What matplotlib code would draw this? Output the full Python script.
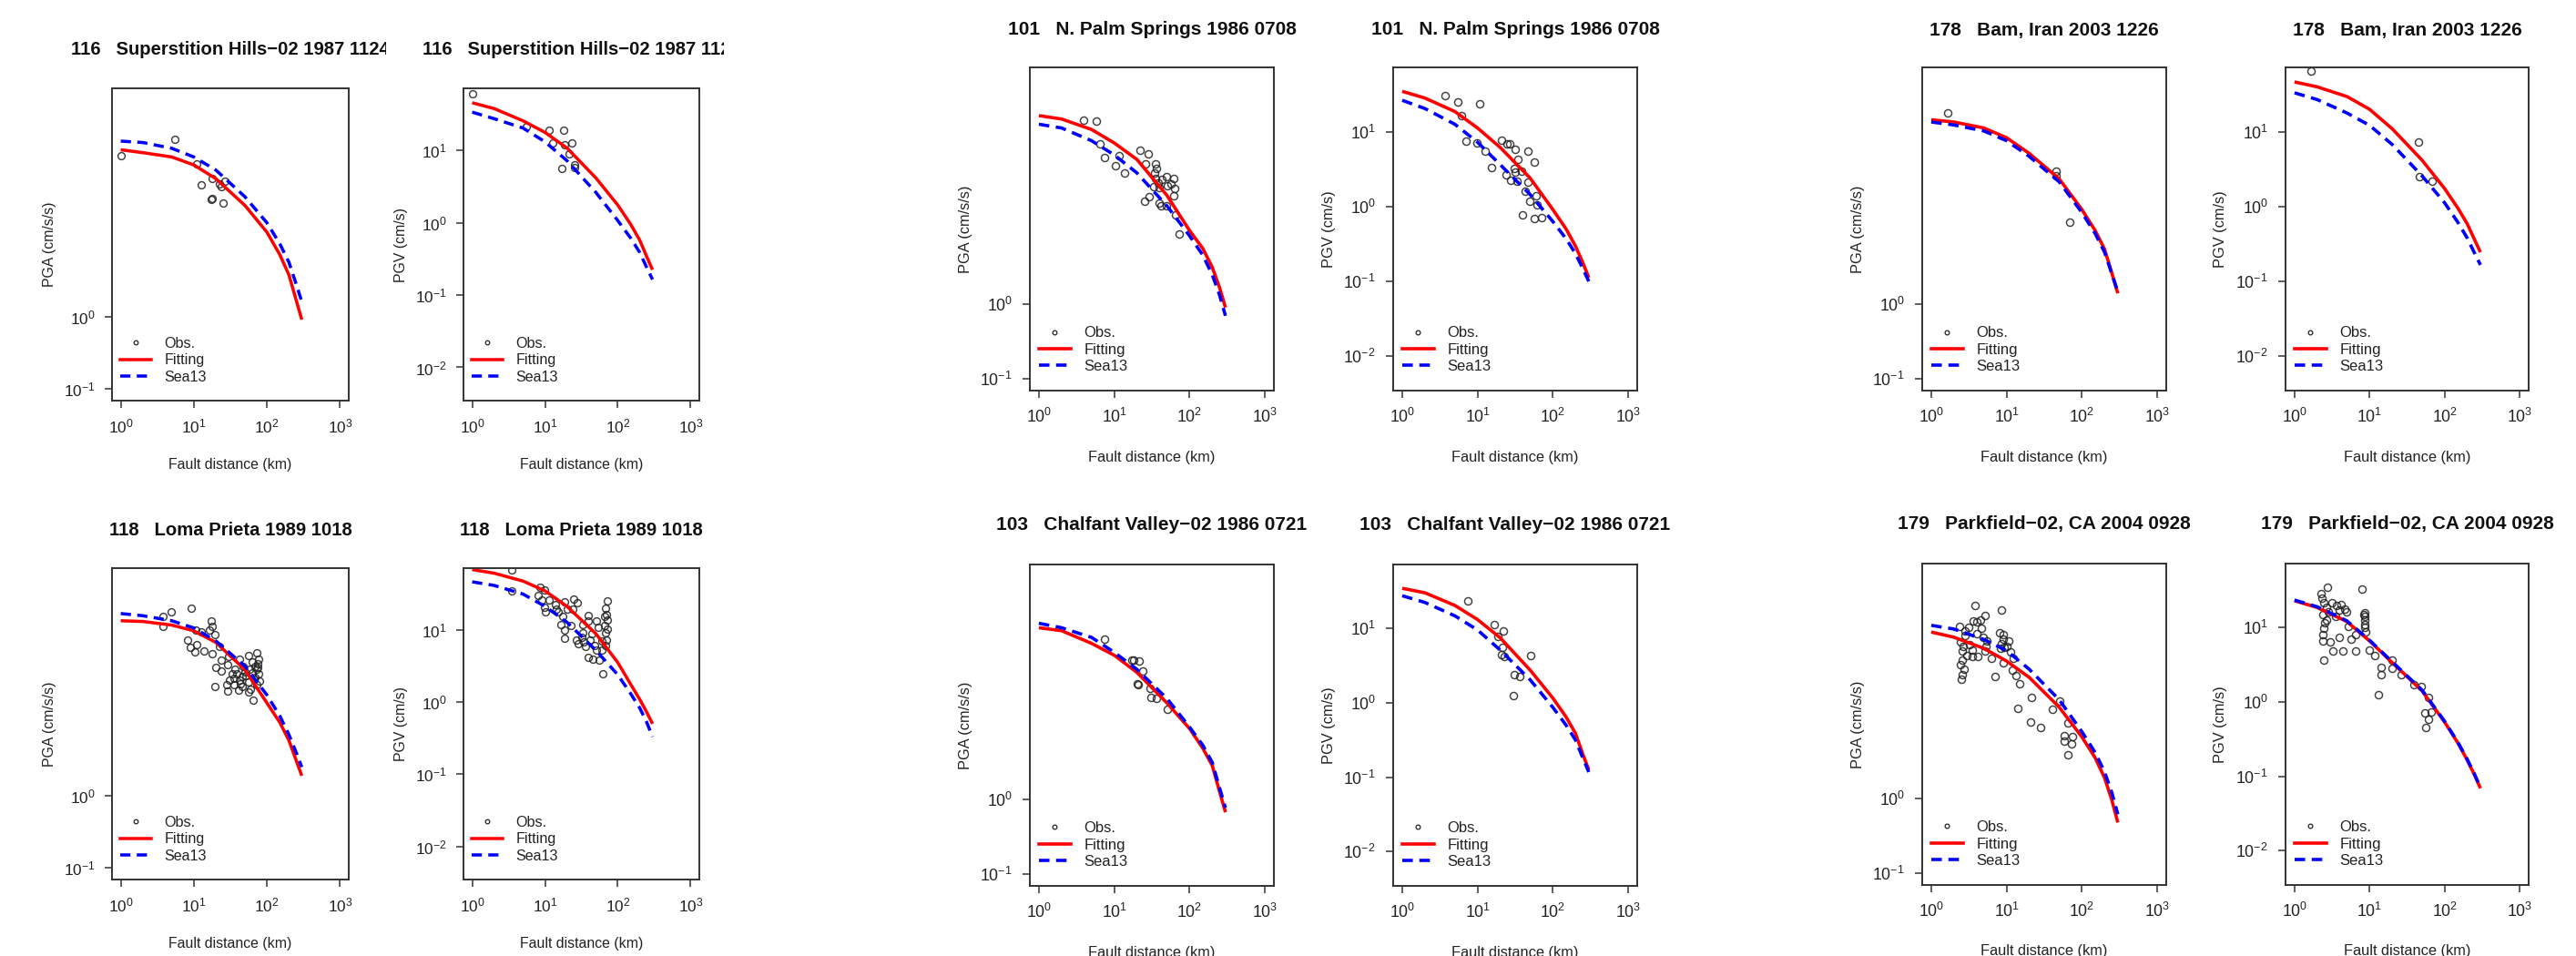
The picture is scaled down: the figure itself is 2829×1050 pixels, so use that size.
import numpy as np
import matplotlib
matplotlib.use('Agg')
import matplotlib.pyplot as plt
from matplotlib.lines import Line2D
from matplotlib.transforms import Bbox, TransformedBbox

plt.rcParams['font.family'] = ['Liberation Sans', 'DejaVu Sans']
plt.rcParams['mathtext.fontset'] = 'custom'
plt.rcParams['mathtext.rm'] = 'Liberation Sans'
plt.rcParams['mathtext.it'] = 'Liberation Sans:italic'
plt.rcParams['mathtext.bf'] = 'Liberation Sans:bold'

W, H = 2829, 1050

# ---------------- data (log10 values) ----------------
dist_km = [1, 2, 5, 10, 20, 50, 100, 150, 200, 250, 300]

# 116 Superstition Hills-02
ev116_pga_fit = [2.31, 2.27, 2.21, 2.10, 1.91, 1.54, 1.17, 0.86, 0.58, 0.24, -0.04]
ev116_pga_sea = [2.43, 2.41, 2.33, 2.21, 2.03, 1.66, 1.30, 1.01, 0.755, 0.46, 0.21]
ev116_pga_obs_logr = [0.0, 0.739, 1.04, 1.105, 1.252, 1.233, 1.252, 1.349, 1.381, 1.426, 1.40]
ev116_pga_obs_logy = [2.23, 2.46, 2.11, 1.82, 1.91, 1.62, 1.63, 1.84, 1.795, 1.88, 1.576]
ev116_pgv_fit = [1.66, 1.58, 1.41, 1.25, 1.035, 0.62, 0.245, -0.02, -0.24, -0.47, -0.65]
ev116_pgv_sea = [1.53, 1.44, 1.31, 1.12, 0.86, 0.42, 0.03, -0.21, -0.41, -0.62, -0.785]
ev116_pgv_obs_logr = [0.0, 0.745, 1.05, 1.258, 1.111, 1.272, 1.368, 1.336, 1.227, 1.40, 1.41]
ev116_pgv_obs_logy = [1.79, 1.33, 1.285, 1.28, 1.11, 1.08, 1.11, 0.947, 0.75, 0.763, 0.80]

# 118 Loma Prieta
ev118_pga_fit = [2.43, 2.42, 2.37, 2.29, 2.13, 1.75, 1.29, 1.02, 0.77, 0.50, 0.28]
ev118_pga_sea = [2.53, 2.50, 2.43, 2.33, 2.15, 1.80, 1.40, 1.11, 0.85, 0.61, 0.40]
ev118_pga_obs_logr = [0.689, 0.573, 0.573, 0.97, 1.233, 1.245, 1.212, 1.287, 1.024, 1.107,
                      0.92, 0.953, 1.036, 1.011, 1.137, 1.245, 1.35, 1.378, 1.303, 1.371,
                      1.462, 1.471, 1.629, 1.747, 1.86, 1.889, 1.838, 1.671, 1.588, 1.546,
                      1.629, 1.713, 1.797, 1.86, 1.889, 1.754, 1.663, 1.546, 1.454, 1.484,
                      1.462, 1.287, 1.609, 1.747, 1.817, 1.776, 1.86, 1.838, 1.872, 1.797,
                      1.567, 1.525, 1.82, 1.70, 1.88, 1.76, 1.66, 1.90, 1.64]
ev118_pga_obs_logy = [2.548, 2.485, 2.347, 2.60, 2.43, 2.347, 2.297, 2.243, 2.306, 2.276,
                      2.163, 2.055, 2.096, 1.996, 2.005, 1.971, 2.068, 1.887, 1.783, 1.733,
                      1.817, 1.93, 1.90, 1.942, 1.984, 1.90, 1.796, 1.796, 1.692, 1.629,
                      1.608, 1.67, 1.712, 1.754, 1.692, 1.587, 1.524, 1.545, 1.545, 1.608,
                      1.454, 1.524, 1.462, 1.441, 1.328, 1.482, 1.545, 1.649, 1.837, 1.858,
                      1.754, 1.692, 1.62, 1.72, 1.78, 1.76, 1.66, 1.60, 1.56]
ev118_pgv_fit = [1.84, 1.79, 1.68, 1.545, 1.33, 0.95, 0.55, 0.25, 0.04, -0.14, -0.30]
ev118_pgv_sea = [1.67, 1.62, 1.50, 1.33, 1.11, 0.72, 0.38, 0.12, -0.08, -0.28, -0.48]
ev118_pgv_obs_logr = [0.547, 0.547, 0.931, 0.994, 0.911, 0.952, 1.057, 0.994, 1.007, 1.14,
                      1.162, 1.266, 1.307, 1.391, 1.441, 1.383, 1.245, 1.216, 1.266, 1.266,
                      1.357, 1.516, 1.591, 1.60, 1.704, 1.733, 1.516, 1.432, 1.454, 1.537,
                      1.62, 1.642, 1.683, 1.704, 1.60, 1.746, 1.80, 1.851, 1.829, 1.817,
                      1.851, 1.817, 1.829, 1.842, 1.829, 1.776, 1.182, 1.655, 1.50, 1.56,
                      1.86, 1.84, 1.78]
ev118_pgv_obs_logy = [1.839, 1.545, 1.595, 1.552, 1.481, 1.419, 1.419, 1.313, 1.25, 1.356,
                      1.293, 1.397, 1.293, 1.426, 1.376, 1.293, 1.187, 1.082, 0.997, 0.893,
                      1.061, 1.082, 1.208, 1.132, 1.124, 1.04, 0.965, 0.864, 0.808, 0.838,
                      0.868, 0.956, 0.788, 0.725, 0.628, 0.586, 0.401, 1.41, 1.30, 1.187,
                      1.145, 1.061, 0.965, 0.864, 0.788, 0.725, 1.25, 0.593, 0.90, 0.78,
                      1.02, 1.22, 0.85]

# 101 N. Palm Springs
ev101_pga_fit = [2.515, 2.47, 2.33, 2.15, 1.93, 1.45, 0.98, 0.74, 0.49, 0.22, -0.05]
ev101_pga_sea = [2.40, 2.35, 2.18, 1.99, 1.75, 1.31, 0.91, 0.65, 0.39, 0.12, -0.16]
ev101_pga_obs_logr = [0.593, 0.758, 0.806, 0.875, 1.021, 1.061, 1.138, 1.344, 1.453, 1.412,
                      1.553, 1.565, 1.533, 1.553, 1.634, 1.695, 1.787, 1.525, 1.804, 1.795,
                      1.465, 1.40, 1.594, 1.626, 1.695, 1.816, 1.868, 1.75, 1.58, 1.60, 1.70]
ev101_pga_obs_logy = [2.449, 2.440, 2.133, 1.957, 1.846, 1.981, 1.743, 2.05, 2.001, 1.866,
                      1.866, 1.805, 1.743, 1.681, 1.661, 1.702, 1.674, 1.567, 1.538, 1.444,
                      1.436, 1.374, 1.346, 1.305, 1.305, 1.19, 0.936, 1.60, 1.62, 1.55, 1.58]
ev101_pgv_fit = [1.54, 1.45, 1.27, 1.05, 0.79, 0.38, -0.04, -0.30, -0.53, -0.75, -0.95]
ev101_pgv_sea = [1.42, 1.31, 1.10, 0.86, 0.56, 0.16, -0.20, -0.43, -0.63, -0.83, -1.00]
ev101_pgv_obs_logr = [0.566, 0.74, 1.034, 0.792, 0.853, 0.99, 1.103, 1.316, 1.397, 1.425,
                      1.505, 1.666, 1.759, 1.533, 1.183, 1.376, 1.497, 1.586, 1.437, 1.526,
                      1.666, 1.638, 1.695, 1.775, 1.787, 1.599, 1.759, 1.848, 1.485]
ev101_pgv_obs_logy = [1.485, 1.392, 1.371, 1.216, 0.874, 0.85, 0.74, 0.891, 0.834, 0.842,
                      0.76, 0.74, 0.598, 0.63, 0.525, 0.427, 0.455, 0.467, 0.345, 0.333,
                      0.321, 0.199, 0.077, 0.15, 0.028, -0.115, -0.155, -0.143, 0.508]

# 103 Chalfant Valley-02
ev103_pga_fit = [2.31, 2.27, 2.10, 1.94, 1.71, 1.30, 0.955, 0.69, 0.46, 0.11, -0.17]
ev103_pga_sea = [2.37, 2.31, 2.18, 1.98, 1.75, 1.36, 0.975, 0.73, 0.50, 0.16, -0.11]
ev103_pga_obs_logr = [0.87, 1.239, 1.325, 1.384, 1.305, 1.318, 1.477, 1.49, 1.556, 1.70, 1.26]
ev103_pga_obs_logy = [2.16, 1.87, 1.86, 1.725, 1.56, 1.55, 1.49, 1.37, 1.36, 1.21, 1.88]
ev103_pgv_fit = [1.54, 1.48, 1.31, 1.12, 0.875, 0.44, 0.065, -0.19, -0.41, -0.69, -0.90]
ev103_pgv_sea = [1.44, 1.35, 1.17, 0.98, 0.71, 0.31, -0.06, -0.30, -0.50, -0.74, -0.93]
ev103_pgv_obs_logr = [0.877, 1.226, 1.272, 1.338, 1.325, 1.318, 1.358, 1.70, 1.49, 1.556, 1.47]
ev103_pgv_obs_logy = [1.365, 1.054, 0.896, 0.967, 0.75, 0.647, 0.626, 0.634, 0.385, 0.356, 0.094]

# 178 Bam, Iran
ev178_pga_fit = [2.46, 2.43, 2.35, 2.22, 2.01, 1.67, 1.26, 0.98, 0.73, 0.41, 0.14]
ev178_pga_sea = [2.43, 2.39, 2.31, 2.18, 1.97, 1.63, 1.22, 0.94, 0.69, 0.40, 0.16]
ev178_pga_obs_logr = [0.2175, 1.66, 1.66, 1.833]
ev178_pga_obs_logy = [2.55, 1.77, 1.71, 1.09]
ev178_pgv_fit = [1.665, 1.60, 1.47, 1.30, 1.04, 0.62, 0.24, -0.02, -0.23, -0.44, -0.61]
ev178_pgv_sea = [1.52, 1.43, 1.25, 1.085, 0.83, 0.41, 0.05, -0.21, -0.42, -0.62, -0.78]
ev178_pgv_obs_logr = [0.2175, 1.655, 1.668, 1.833]
ev178_pgv_obs_logy = [1.81, 0.865, 0.40, 0.335]

# 179 Parkfield-02, CA
ev179_pga_fit = [2.24, 2.17, 2.02, 1.85, 1.63, 1.23, 0.83, 0.55, 0.28, -0.02, -0.32]
ev179_pga_sea = [2.33, 2.28, 2.14, 1.99, 1.74, 1.33, 0.90, 0.62, 0.36, 0.08, -0.21]
ev179_pga_obs_logr = [0.58, 0.931, 0.717, 0.608, 0.555, 0.378, 0.669, 0.446, 0.385, 0.688,
                      0.73, 0.406, 0.467, 0.548, 0.62, 0.406, 0.434, 0.406, 0.394, 0.911,
                      0.96, 0.931, 0.972, 1.024, 1.052, 0.96, 0.798, 0.842, 1.093, 1.073,
                      1.121, 1.173, 1.336, 1.145, 1.323, 1.448, 1.606, 1.711, 1.82, 1.767,
                      1.767, 1.861, 1.873, 1.82, 0.709, 0.507, 0.45, 0.60, 0.50, 0.65,
                      0.42, 0.95, 1.00, 0.92, 0.39, 0.55, 0.74]
ev179_pga_obs_logy = [2.603, 2.535, 2.466, 2.372, 2.385, 2.312, 2.292, 2.19, 2.109, 2.17,
                      2.049, 1.988, 1.927, 1.915, 1.915, 1.866, 1.745, 1.663, 1.602, 2.231,
                      2.21, 2.089, 2.037, 2.117, 1.979, 1.825, 1.886, 1.642, 1.886, 1.724,
                      1.655, 1.541, 1.359, 1.209, 1.034, 0.953, 1.196, 1.318, 1.022, 0.852,
                      0.779, 0.738, 0.832, 0.589, 1.988, 2.068, 2.25, 2.22, 2.30, 2.40,
                      2.05, 2.15, 2.05, 2.02, 1.80, 2.00, 2.12]
ev179_pgv_fit = [1.36, 1.27, 1.08, 0.82, 0.53, 0.15, -0.27, -0.55, -0.78, -0.98, -1.16]
ev179_pgv_sea = [1.37, 1.28, 1.09, 0.83, 0.54, 0.16, -0.26, -0.54, -0.77, -0.97, -1.15]
ev179_pgv_obs_logr = [0.438, 0.898, 0.357, 0.386, 0.426, 0.559, 0.599, 0.689, 0.374, 0.398,
                      0.386, 0.374, 0.374, 0.478, 0.599, 0.507, 0.64, 0.386, 0.817, 0.749,
                      0.931, 0.938, 0.95, 0.922, 0.991, 1.071, 1.153, 1.153, 1.113, 1.302,
                      1.302, 1.423, 1.597, 1.689, 1.786, 1.737, 1.818, 1.786, 1.746, 0.668,
                      0.81, 0.36, 0.50, 0.62, 0.42, 0.93, 0.94, 0.45, 0.55, 0.72, 0.93]
ev179_pgv_obs_logy = [1.543, 1.514, 1.453, 1.339, 1.27, 1.299, 1.23, 1.209, 1.169, 1.067,
                      0.985, 0.904, 0.823, 0.802, 0.863, 0.68, 0.689, 0.558, 0.68, 0.843,
                      1.148, 1.046, 0.945, 1.177, 0.701, 0.619, 0.469, 0.363, 0.103, 0.558,
                      0.457, 0.363, 0.232, 0.212, 0.061, -0.142, -0.134, -0.236, -0.337, 1.25,
                      0.904, 1.40, 1.33, 1.31, 1.10, 1.10, 1.20, 1.21, 1.15, 1.02, 1.00]

titles = {
    '116': '116   Superstition Hills\u221202 1987 1124',
    '118': '118   Loma Prieta 1989 1018',
    '101': '101   N. Palm Springs 1986 0708',
    '103': '103   Chalfant Valley\u221202 1986 0721',
    '178': '178   Bam, Iran 2003 1226',
    '179': '179   Parkfield\u221202, CA 2004 0928',
}

# ---------------- drawing ----------------
fig = plt.figure(figsize=(W / 100, H / 100), dpi=100)

BOXC = '#333333'
LW = 2.6
DASH = (0, (3.2, 2.0))


def draw_panel(box, title_y, title, kind, fit, sea, olr, oly, s=1.0, clip_right=None):
    l, t, r, b = box
    ax = fig.add_axes([l / W, 1 - b / H, (r - l) / W, (b - t) / H])
    ax.set_xscale('log')
    ax.set_yscale('log')
    x = np.array(dist_km, float)
    ax.plot(10 ** np.array(olr), 10 ** np.array(oly), ls='none', marker='o', ms=5.8 * s,
            mfc='none', mec='#1e1e1e', mew=1.05, alpha=0.85)
    ax.plot(x, 10 ** np.array(fit), color='#ff0000', lw=LW * s, solid_capstyle='butt')
    ax.plot(x, 10 ** np.array(sea), color='#0000ff', lw=LW * s, ls=DASH)
    ax.set_xlim(10 ** -0.12, 10 ** 3.12)
    if kind == 'PGA':
        ax.set_ylim(10 ** -1.16, 10 ** 3.16)
        yt = [0.1, 1.0]
        ytl = [r'$10^{-1}$', r'$10^{0}$']
        ylab = 'PGA (cm/s/s)'
    else:
        ax.set_ylim(10 ** -2.46, 10 ** 1.86)
        yt = [0.01, 0.1, 1.0, 10.0]
        ytl = [r'$10^{-2}$', r'$10^{-1}$', r'$10^{0}$', r'$10^{1}$']
        ylab = 'PGV (cm/s)'
    ax.set_xticks([1, 10, 100, 1000])
    ax.set_xticklabels([r'$10^{0}$', r'$10^{1}$', r'$10^{2}$', r'$10^{3}$'])
    ax.set_yticks(yt)
    ax.set_yticklabels(ytl)
    ax.minorticks_off()
    ax.tick_params(direction='out', length=5.8 * s, width=1.1, color=BOXC,
                   pad=8.0 * s, labelsize=12.8 * s, labelcolor='#222222')
    for sp in ax.spines.values():
        sp.set_color(BOXC)
        sp.set_linewidth(1.4)
    wpx = r - l
    hpx = b - t
    ax.text(-71 * s / wpx, 0.5, ylab, transform=ax.transAxes, rotation=90,
            ha='center', va='center', fontsize=11.8 * s, color='#222222')
    ax.text(0.5, -73 * s / hpx, 'Fault distance (km)', transform=ax.transAxes,
            ha='center', va='center', fontsize=11.8 * s, color='#222222')
    handles = [
        Line2D([], [], ls='none', marker='o', ms=3.4 * s, mfc='none', mec='#222222', mew=0.9),
        Line2D([], [], color='#ff0000', lw=LW * s),
        Line2D([], [], color='#0000ff', lw=LW * s, ls=DASH),
    ]
    leg = ax.legend(handles, ['Obs.', 'Fitting', 'Sea13'], loc='lower left',
                    bbox_to_anchor=(9.5 * s / wpx, 19 * s / hpx), frameon=False,
                    fontsize=12.0 * s, handlelength=2.1, handletextpad=0.9,
                    labelspacing=0.2, borderpad=0, borderaxespad=0)
    for txt in leg.get_texts():
        txt.set_color('#222222')
    cx = (l + r) / 2
    tt = fig.text(cx / W, 1 - title_y / H, title, ha='center', va='center',
                  fontsize=15.0 * s, fontweight='bold', color='#111111')
    if clip_right is not None:
        bb = TransformedBbox(Bbox.from_extents(0, 0, clip_right / W, 1), fig.transFigure)
        tt.set_clip_box(bb)
        tt.set_clip_on(True)
    return ax


g1 = 0.97
# group 1
draw_panel((123, 97, 383, 440), 55, titles['116'], 'PGA', ev116_pga_fit, ev116_pga_sea,
           ev116_pga_obs_logr, ev116_pga_obs_logy, s=g1, clip_right=424)
draw_panel((509, 97, 768, 440), 55, titles['116'], 'PGV', ev116_pgv_fit, ev116_pgv_sea,
           ev116_pgv_obs_logr, ev116_pgv_obs_logy, s=g1, clip_right=795)
draw_panel((123, 624, 383, 966), 583, titles['118'], 'PGA', ev118_pga_fit, ev118_pga_sea,
           ev118_pga_obs_logr, ev118_pga_obs_logy, s=g1)
draw_panel((509, 624, 768, 966), 583, titles['118'], 'PGV', ev118_pgv_fit, ev118_pgv_sea,
           ev118_pgv_obs_logr, ev118_pgv_obs_logy, s=g1)
# group 2
draw_panel((1131, 74, 1399, 429), 33, titles['101'], 'PGA', ev101_pga_fit, ev101_pga_sea,
           ev101_pga_obs_logr, ev101_pga_obs_logy)
draw_panel((1530, 74, 1798, 429), 33, titles['101'], 'PGV', ev101_pgv_fit, ev101_pgv_sea,
           ev101_pgv_obs_logr, ev101_pgv_obs_logy)
draw_panel((1131, 620, 1399, 973), 576, titles['103'], 'PGA', ev103_pga_fit, ev103_pga_sea,
           ev103_pga_obs_logr, ev103_pga_obs_logy)
draw_panel((1530, 620, 1798, 973), 576, titles['103'], 'PGV', ev103_pgv_fit, ev103_pgv_sea,
           ev103_pgv_obs_logr, ev103_pgv_obs_logy)
# group 3
draw_panel((2111, 74, 2379, 429), 33, titles['178'], 'PGA', ev178_pga_fit, ev178_pga_sea,
           ev178_pga_obs_logr, ev178_pga_obs_logy)
draw_panel((2510, 74, 2777, 429), 33, titles['178'], 'PGV', ev178_pgv_fit, ev178_pgv_sea,
           ev178_pgv_obs_logr, ev178_pgv_obs_logy)
draw_panel((2111, 619, 2379, 972), 576, titles['179'], 'PGA', ev179_pga_fit, ev179_pga_sea,
           ev179_pga_obs_logr, ev179_pga_obs_logy)
draw_panel((2510, 619, 2777, 972), 576, titles['179'], 'PGV', ev179_pgv_fit, ev179_pgv_sea,
           ev179_pgv_obs_logr, ev179_pgv_obs_logy)

fig.savefig('out.png', dpi=100)
